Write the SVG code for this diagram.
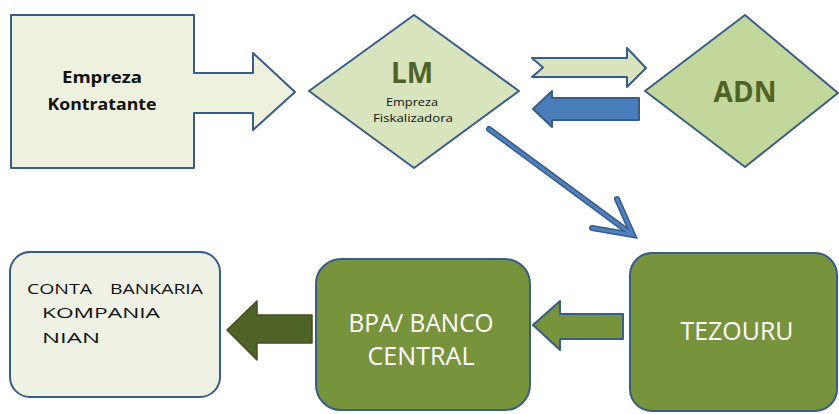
<svg xmlns="http://www.w3.org/2000/svg" width="839" height="414" viewBox="0 0 839 414">
<style>
text{font-family:"Open Sans","Liberation Sans",sans-serif;}
.dk{fill:#111111;}
.b{font-weight:bold;}
.gt{fill:#4f6228;font-weight:bold;font-size:28px;}
.wt{fill:#ffffff;font-size:25px;}
.edge{stroke:#385d8a;stroke-width:2;stroke-linejoin:round;}
</style>
<rect width="839" height="414" fill="#ffffff"/>
<g id="empreza-kontratante">
<polygon class="edge" points="11,15 194,15 194,73 253,73 253,53 295,92 253,130 253,113 194,113 194,168 11,168" fill="#eef1de" stroke-width="2.5"/>
<text class="dk b" x="102" y="83" font-size="16" text-anchor="middle" textLength="80" lengthAdjust="spacingAndGlyphs">Empreza</text>
<text class="dk b" x="102" y="110" font-size="16" text-anchor="middle" textLength="109" lengthAdjust="spacingAndGlyphs">Kontratante</text>
</g>
<g id="lm">
<polygon class="edge" points="309,91 414,15 519,91 414,168" fill="#d7e4bd"/>
<text class="gt" x="412" y="83" text-anchor="middle">LM</text>
<text class="dk" x="412" y="106" font-size="11" text-anchor="middle" textLength="52" lengthAdjust="spacingAndGlyphs">Empreza</text>
<text class="dk" x="413" y="122" font-size="11" text-anchor="middle" textLength="80" lengthAdjust="spacingAndGlyphs">Fiskalizadora</text>
</g>
<g id="adn">
<polygon class="edge" points="645,91 745,15 838,93 745,167" fill="#c3d69b"/>
<text class="gt" x="745" y="102" text-anchor="middle">ADN</text>
</g>
<g id="conta-bankaria">
<rect class="edge" x="10" y="252" width="210" height="145" rx="20" fill="#eef1e4"/>
<text class="dk" x="27" y="294" font-size="15" textLength="65" lengthAdjust="spacingAndGlyphs">CONTA</text>
<text class="dk" x="110" y="294" font-size="15" textLength="93" lengthAdjust="spacingAndGlyphs">BANKARIA</text>
<text class="dk" x="42" y="318" font-size="15" textLength="118" lengthAdjust="spacingAndGlyphs">KOMPANIA</text>
<text class="dk" x="42" y="343" font-size="15" textLength="58" lengthAdjust="spacingAndGlyphs">NIAN</text>
</g>
<g id="bpa-banco-central">
<rect class="edge" x="316" y="259" width="214" height="151" rx="25" fill="#77933c"/>
<text class="wt" x="421" y="332" text-anchor="middle" textLength="145" lengthAdjust="spacingAndGlyphs">BPA/ BANCO</text>
<text class="wt" x="421" y="365" text-anchor="middle" textLength="107" lengthAdjust="spacingAndGlyphs">CENTRAL</text>
</g>
<g id="tezouru">
<rect class="edge" x="630" y="253" width="207" height="158" rx="22" fill="#77933c"/>
<text class="wt" x="737" y="340" text-anchor="middle" textLength="113" lengthAdjust="spacingAndGlyphs">TEZOURU</text>
</g>
<g id="connectors">
<polygon class="edge" points="532,58 627,58 627,48 646,68 627,87 627,77 532,77 543,67.5" fill="#d7e4bd"/>
<polygon class="edge" points="533,109 552,91 552,98 639,98 639,120 552,120 552,127" fill="#4a7ebb"/>
<g fill="none" stroke-linecap="round" stroke-linejoin="miter">
<line x1="489" y1="129" x2="630" y2="233" stroke="#385d8a" stroke-width="6"/>
<polyline points="617,199 633,235 592,228" stroke="#385d8a" stroke-width="6"/>
<line x1="489" y1="129" x2="630" y2="233" stroke="#4f81bd" stroke-width="3"/>
<polyline points="617,199 633,235 592,228" stroke="#4f81bd" stroke-width="3"/>
</g>
<polygon points="227,330 257,301 257,315 312,315 312,343 257,343 257,360" fill="#4f6228" stroke="#3f5020" stroke-width="1.5" stroke-linejoin="round"/>
<polygon class="edge" points="533,325 560,301 560,314 623,314 623,339 560,339 560,350" fill="#77933c"/>
</g>
</svg>
